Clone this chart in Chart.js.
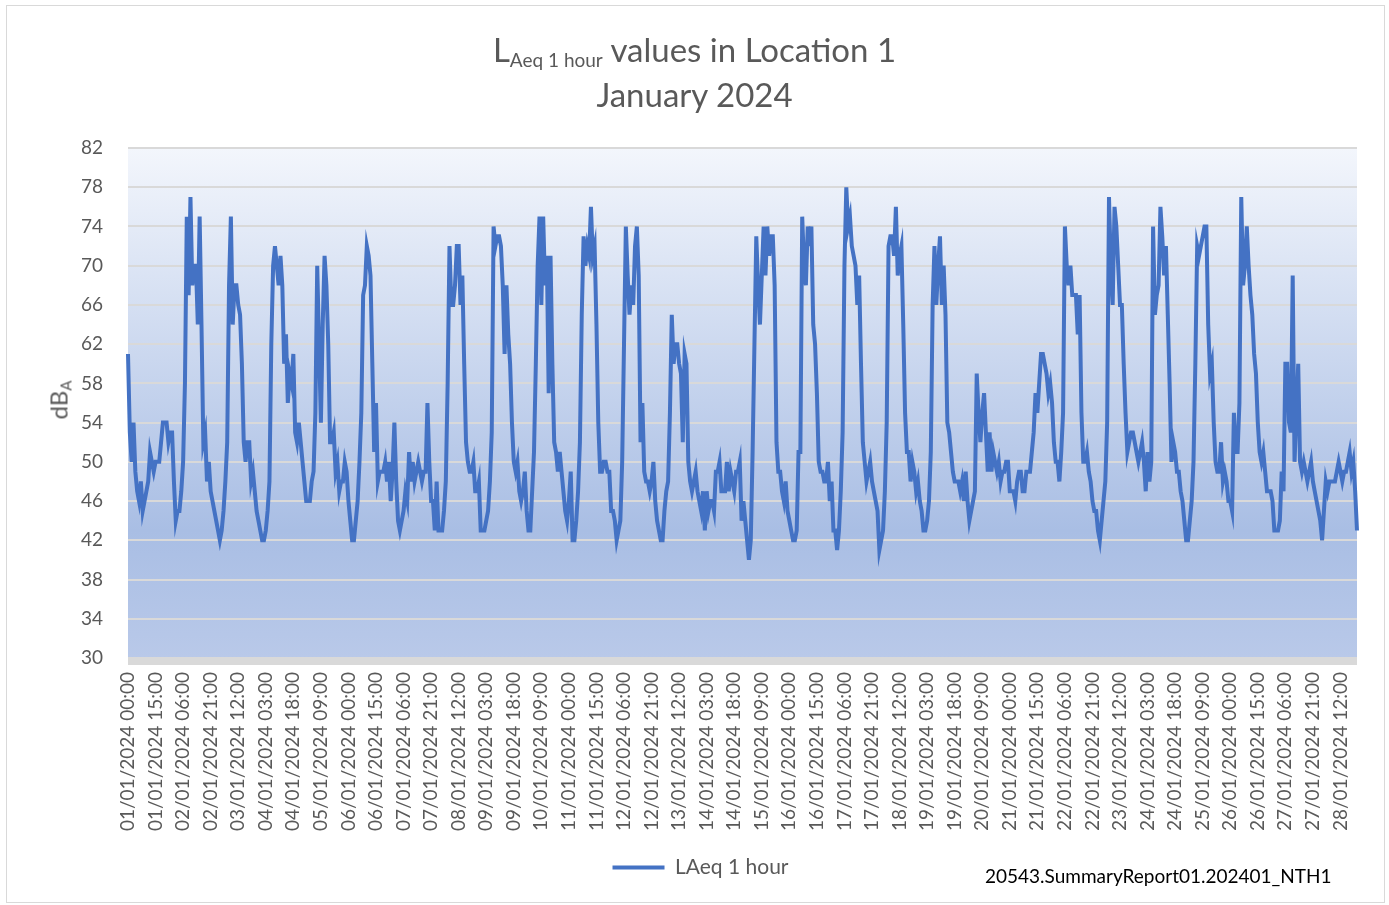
<!DOCTYPE html>
<html>
<head>
<meta charset="utf-8">
<title>LAeq 1 hour values in Location 1 - January 2024</title>
<script src="https://cdn.jsdelivr.net/npm/chart.js@4.4.1/dist/chart.umd.min.js"></script>
<style>
  html, body { margin: 0; padding: 0; background: #fff; }
  #wrap { position: relative; width: 1389px; height: 905px; font-family: Lato, "Open Sans", sans-serif; color: #595959; }
  #frame { position: absolute; left: 6px; top: 5px; width: 1379px; height: 898px; border: 1px solid #d9d9d9; box-sizing: border-box; }
  #chart { position: absolute; left: 0; top: 0; }
  #title { position: absolute; left: 0; top: 27px; width: 1389px; text-align: center; font-size: 33px; line-height: 45px; }
  #title sub, #ytitle sub { line-height: 0; }
  #title sub { font-size: 19px; vertical-align: -5px; }
  #ytitle { position: absolute; left: 58px; top: 400px; transform: translate(-50%, -50%) rotate(-90deg); font-size: 24px; white-space: nowrap; }
  #ytitle sub { font-size: 15px; vertical-align: -4px; }
  #footer { position: absolute; left: 985px; top: 864px; font-size: 19px; color: #000; white-space: nowrap; }
</style>
</head>
<body>
<div id="wrap">
  <div id="frame"></div>
  <canvas id="chart" width="1389" height="905"></canvas>
  <div id="title">L<sub>Aeq 1 hour</sub> values in Location 1<br>January 2024</div>
  <div id="ytitle">dB<sub>A</sub></div>
  <div id="footer">20543.SummaryReport01.202401_NTH1</div>
</div>
<script>
// hourly LAeq values, starting 01/01/2024 00:00
var seriesName = 'LAeq 1 hour';
var laeq = [
  61, 53, 50, 54, 49, 47, 46, 48, 45, 46,
  47, 48, 51, 50, 49, 50, 50, 50, 52, 54,
  54, 54, 52, 53, 53, 48, 44, 45, 45, 47,
  50, 58, 75, 67, 77, 68, 70, 70, 64, 75,
  64, 52, 53, 48, 50, 47, 46, 45, 44, 43,
  42, 43, 45, 48, 52, 68, 75, 64, 68, 68,
  66, 65, 60, 52, 50, 52, 52, 48, 49, 47,
  45, 44, 43, 42, 42, 43, 45, 48, 62, 70,
  72, 70, 68, 71, 68, 60, 63, 56, 59, 58,
  61, 53, 52, 54, 52, 50, 48, 46, 46, 46,
  48, 49, 55, 70, 62, 54, 64, 71, 68, 62,
  52, 52, 53, 49, 50, 47, 48, 48, 50, 49,
  46, 44, 42, 42, 44, 46, 50, 55, 67, 68,
  72, 71, 69, 60, 51, 56, 48, 49, 49, 49,
  50, 48, 50, 46, 49, 54, 48, 44, 43, 44,
  45, 47, 46, 51, 48, 50, 48, 49, 50, 49,
  48, 49, 49, 56, 50, 46, 46, 43, 48, 43,
  43, 43, 45, 48, 58, 72, 66, 66, 68, 72,
  72, 66, 69, 60, 52, 50, 49, 49, 50, 47,
  47, 48, 43, 43, 43, 44, 45, 48, 53, 74,
  72, 73, 73, 72, 68, 61, 68, 63, 60, 54,
  50, 49, 50, 47, 46, 47, 49, 45, 43, 43,
  47, 51, 60, 70, 75, 66, 75, 68, 71, 57,
  71, 60, 52, 51, 49, 51, 49, 47, 45, 44,
  46, 49, 42, 42, 44, 47, 52, 65, 73, 70,
  72, 71, 76, 71, 72, 64, 54, 49, 49, 50,
  50, 49, 49, 45, 45, 44, 42, 43, 44, 50,
  62, 74, 69, 65, 68, 66, 72, 74, 69, 52,
  56, 49, 48, 48, 47, 48, 50, 46, 44, 43,
  42, 42, 45, 47, 48, 55, 65, 60, 62, 62,
  60, 59, 52, 61, 60, 50, 48, 47, 48, 49,
  47, 46, 45, 47, 43, 47, 45, 46, 46, 45,
  49, 49, 50, 47, 47, 47, 50, 47, 49, 48,
  47, 49, 49, 50, 44, 46, 44, 42, 40, 42,
  51, 62, 73, 68, 64, 69, 74, 69, 74, 71,
  73, 73, 68, 52, 49, 49, 47, 46, 48, 45,
  44, 43, 42, 42, 43, 51, 51, 75, 70, 68,
  74, 72, 74, 64, 62, 57, 50, 49, 49, 48,
  48, 50, 46, 48, 43, 43, 41, 43, 47, 53,
  70, 78, 74, 75, 72, 71, 70, 66, 69, 60,
  52, 50, 48, 49, 50, 48, 47, 46, 45, 41,
  42, 43, 47, 54, 72, 73, 73, 71, 76, 69,
  71, 72, 64, 55, 51, 51, 48, 50, 49, 47,
  48, 46, 45, 43, 43, 44, 46, 51, 66, 72,
  66, 70, 73, 66, 70, 65, 54, 53, 51, 49,
  48, 48, 48, 47, 48, 46, 49, 46, 44, 45,
  46, 47, 59, 55, 52, 55, 57, 53, 49, 53,
  49, 51, 50, 49, 50, 48, 49, 49, 50, 50,
  47, 47, 47, 46, 48, 49, 49, 47, 47, 49,
  49, 49, 51, 53, 57, 55, 58, 61, 61, 60,
  59, 57, 58, 56, 52, 50, 50, 48, 51, 55,
  74, 70, 68, 70, 67, 67, 67, 63, 67, 55,
  50, 50, 51, 49, 48, 46, 45, 45, 43, 42,
  44, 46, 48, 54, 77, 70, 66, 76, 74, 70,
  66, 66, 60, 55, 51, 52, 53, 53, 52, 51,
  50, 51, 52, 50, 47, 51, 48, 50, 74, 65,
  67, 68, 76, 73, 69, 72, 65, 58, 50, 52,
  51, 49, 49, 47, 46, 44, 42, 42, 44, 46,
  50, 60, 72, 71, 72, 73, 74, 74, 64, 59,
  60, 54, 50, 49, 49, 52, 48, 49, 48, 46,
  46, 45, 55, 51, 51, 56, 77, 68, 70, 74,
  70, 67, 65, 61, 59, 54, 51, 50, 51, 49,
  47, 47, 47, 46, 43, 43, 43, 44, 49, 47,
  60, 60, 54, 53, 69, 50, 55, 60, 50, 49,
  50, 49, 48, 49, 50, 48, 47, 46, 45, 44,
  42, 45, 48, 47, 48, 48, 48, 48, 49, 50,
  49, 48, 49, 49, 50, 51, 49, 50, 47, 43
];

var yMin = 30;
var yMax = 82;
var yLabelStep = 4;
var xLabelEvery = 15; // one date label every 15 hours

function pad(n) {
  return (n < 10 ? '0' : '') + n;
}

// category labels, one per hour
var hours = [];
for (var i = 0; i < laeq.length; i++) {
  hours.push(pad(Math.floor(i / 24) + 1) + '/01/2024 ' + pad(i % 24) + ':00');
}

// gradient fill behind the plot + grey strip under it
var plotBackground = {
  id: 'plotBackground',
  beforeDraw: function(chart) {
    var a = chart.chartArea;
    var ctx = chart.ctx;
    var g = ctx.createLinearGradient(0, a.top, 0, a.bottom);
    g.addColorStop(0, '#f3f6fc');
    g.addColorStop(0.75, '#a9bee4');
    g.addColorStop(1, '#b9c9e9');
    ctx.save();
    ctx.fillStyle = g;
    ctx.fillRect(a.left, a.top, a.right - a.left, a.bottom - a.top);
    ctx.fillStyle = '#d9d9d9';
    ctx.fillRect(a.left, a.bottom, a.right - a.left, 7);
    ctx.restore();
  }
};

Chart.defaults.font.family = 'Lato, "Open Sans", sans-serif';
Chart.defaults.color = '#595959';

new Chart(document.getElementById('chart'), {
  type: 'line',
  data: {
    labels: hours,
    datasets: [{
      label: seriesName,
      data: laeq,
      borderColor: '#4472c4',
      backgroundColor: '#4472c4',
      borderWidth: 4,
      pointRadius: 0,
      tension: 0,
      fill: false
    }]
  },
  options: {
    responsive: false,
    animation: false,
    layout: { padding: { top: 148, right: 32, left: 44, bottom: 17 } },
    plugins: {
      tooltip: { enabled: false },
      legend: {
        position: 'bottom',
        labels: {
          usePointStyle: true,
          pointStyle: 'line',
          pointStyleWidth: 52,
          font: { size: 21 },
          color: '#595959',
          padding: 10
        }
      }
    },
    scales: {
      x: {
        type: 'category',
        offset: false,
        afterFit: function(scale) {
          scale.height = 189;
          scale.paddingLeft = 0;
          scale.paddingRight = 0;
        },
        grid: { display: false, drawTicks: false },
        border: { display: false },
        ticks: {
          autoSkip: false,
          minRotation: 90,
          maxRotation: 90,
          padding: 14,
          font: { size: 19 },
          callback: function(val, i) {
            return i % xLabelEvery === 0 ? this.getLabelForValue(val) : '';
          }
        }
      },
      y: {
        min: yMin,
        max: yMax,
        afterFit: function(scale) { scale.width = 84; },
        grid: {
          drawTicks: false,
          lineWidth: 2,
          color: function(ctx) {
            return (ctx.tick.value - yMin) % yLabelStep === 0 ? '#d9d9d9' : '#ffffff';
          }
        },
        border: { display: false },
        ticks: {
          stepSize: 2,
          padding: 25,
          font: { size: 19 },
          callback: function(v) {
            return (v - yMin) % yLabelStep === 0 ? v : '';
          }
        }
      }
    }
  },
  plugins: [plotBackground]
});
</script>
</body>
</html>
